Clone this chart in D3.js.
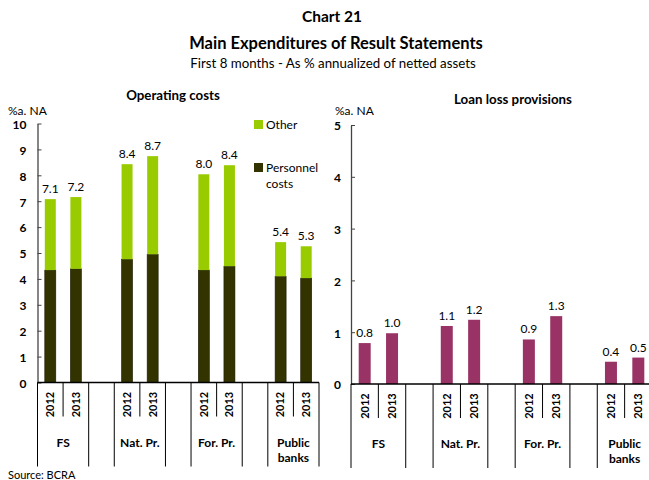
<!DOCTYPE html>
<html>
<head>
<meta charset="utf-8">
<script src="https://cdn.jsdelivr.net/npm/d3@7"></script>
<style>
  body { margin: 0; background: #fff; }
  text { font-family: Lato, "Open Sans", sans-serif; fill: #000; }
</style>
</head>
<body>
<script>
// slots along each x axis (empty string = gap between groups)
var slots = ["FS|2012", "FS|2013", "", "Nat|2012", "Nat|2013", "", "For|2012", "For|2013", "", "Pub|2012", "Pub|2013"];
var groups = [["FS"], ["Nat. Pr."], ["For. Pr."], ["Public", "banks"]];
var years = ["2012", "2013"];

// operating costs (% a. NA)
var personnel = [4.34, 4.39, 4.76, 4.95, 4.34, 4.49, 4.10, 4.03];
var other = [2.74, 2.77, 3.67, 3.79, 3.70, 3.90, 1.32, 1.23];
// loan loss provisions
var provisions = [0.79, 0.98, 1.12, 1.24, 0.86, 1.31, 0.43, 0.51];

var W = 649, H = 480;
var svg = d3.select("body").append("svg").attr("width", W).attr("height", H);

// titles
svg.append("text").attr("x", 332).attr("y", 22).attr("text-anchor", "middle")
    .style("font-weight", "bold").style("font-size", "15.5px").text("Chart 21");
svg.append("text").attr("x", 336).attr("y", 49).attr("text-anchor", "middle")
    .style("font-weight", "bold").style("font-size", "16.5px").text("Main Expenditures of Result Statements");
svg.append("text").attr("x", 333).attr("y", 68).attr("text-anchor", "middle")
    .style("font-size", "13.3px").text("First 8 months - As % annualized of netted assets");
svg.append("text").attr("x", 8).attr("y", 479).style("font-size", "11px").text("Source: BCRA");

function panel(opt) {
    var g = svg.append("g");
    var x = d3.scaleBand().domain(d3.range(slots.length)).range(opt.xr).padding(0);
    var y = d3.scaleLinear().domain([0, opt.max]).range(opt.yr);
    var barSlots = d3.range(slots.length).filter(i => slots[i] !== "");

    g.append("text").attr("x", opt.title[0]).attr("y", opt.title[1]).attr("text-anchor", "middle")
        .style("font-weight", "bold").style("font-size", "13.3px").text(opt.name);
    g.append("text").attr("x", opt.unitX).attr("y", 115).style("font-size", "12px").text("%a. NA");

    // y axis
    var ya = g.append("g").attr("transform", "translate(" + opt.xr[0] + ",0)")
        .call(d3.axisLeft(y).ticks(opt.max).tickSize(-4).tickPadding(opt.pad).tickSizeOuter(0));
    ya.select(".domain").attr("stroke", "#444").attr("stroke-width", 1.3);
    ya.selectAll(".tick line").attr("stroke", "#444");
    ya.selectAll(".tick text").style("font-weight", "bold").style("font-size", "12px")
        .style("font-family", "Lato, sans-serif").attr("fill", "#000").attr("dy", "0.4em");

    // bars
    var stacks = opt.stacks;
    barSlots.forEach(function(s, k) {
        var base = 0;
        stacks.forEach(function(st) {
            var v = st.values[k];
            g.append("rect")
                .attr("x", x(s) + (x.bandwidth() - opt.bw) / 2)
                .attr("width", opt.bw)
                .attr("y", y(base + v))
                .attr("height", y(base) - y(base + v))
                .attr("fill", st.color)
                .attr("stroke", st.stroke || "none").attr("stroke-width", 0.6);
            base += v;
        });
        g.append("text")
            .attr("x", x(s) + x.bandwidth() / 2)
            .attr("y", y(base) - 6)
            .attr("text-anchor", "middle").style("font-size", "12px")
            .text(d3.format(".1f")(base));
    });

    // x axis line
    g.append("line").attr("x1", opt.xr[0]).attr("x2", opt.xr[1])
        .attr("y1", y(0)).attr("y2", y(0)).attr("stroke", "#000").attr("stroke-width", 1.3);

    // separators
    d3.range(slots.length + 1).forEach(function(i) {
        var xx = i < slots.length ? x(i) : opt.xr[1];
        var inner = i > 0 && i < slots.length && slots[i - 1] !== "" && slots[i] !== "";
        g.append("line").attr("x1", xx).attr("x2", xx)
            .attr("y1", y(0)).attr("y2", inner ? y(0) + 34 : y(0) + 84)
            .attr("stroke", "#000").attr("stroke-width", 1);
    });

    // year labels
    barSlots.forEach(function(s) {
        var cx = x(s) + x.bandwidth() / 2;
        g.append("text").attr("transform", "translate(" + cx + "," + (y(0) + 22) + ") rotate(-90)")
            .attr("text-anchor", "middle").attr("dy", "0.35em")
            .style("font-weight", "bold").style("font-size", "11px")
            .text(slots[s].split("|")[1]);
    });

    // group labels
    groups.forEach(function(lines, j) {
        var cx = x(j * 3) + x.bandwidth();
        lines.forEach(function(t, li) {
            g.append("text").attr("x", cx).attr("y", y(0) + 64 + li * 15)
                .attr("text-anchor", "middle")
                .style("font-weight", "bold").style("font-size", "12px").text(t);
        });
    });
    return g;
}

var green = "#99cc00", dark = "#333300", maroon = "#993366";

panel({
    name: "Operating costs", title: [173, 100], unitX: 8,
    xr: [37.5, 319], yr: [382.5, 123.5], max: 10, bw: 11, pad: 11,
    stacks: [{values: personnel, color: dark, stroke: "#1a1a00"}, {values: other, color: green}]
});
panel({
    name: "Loan loss provisions", title: [513, 104], unitX: 335,
    xr: [351, 652], yr: [384, 125], max: 5, bw: 12, pad: 10,
    stacks: [{values: provisions, color: maroon}]
});

// legend
var legend = [["Other", green], ["Personnel|costs", dark]];
legend.forEach(function(d, i) {
    var ly = 120 + i * 43;
    svg.append("rect").attr("x", 254).attr("y", ly).attr("width", 9).attr("height", 9)
        .attr("fill", d[1]);
    d[0].split("|").forEach(function(t, li) {
        svg.append("text").attr("x", 266).attr("y", ly + 9 + li * 16)
            .style("font-size", "12px").text(t);
    });
});
</script>
</body>
</html>
